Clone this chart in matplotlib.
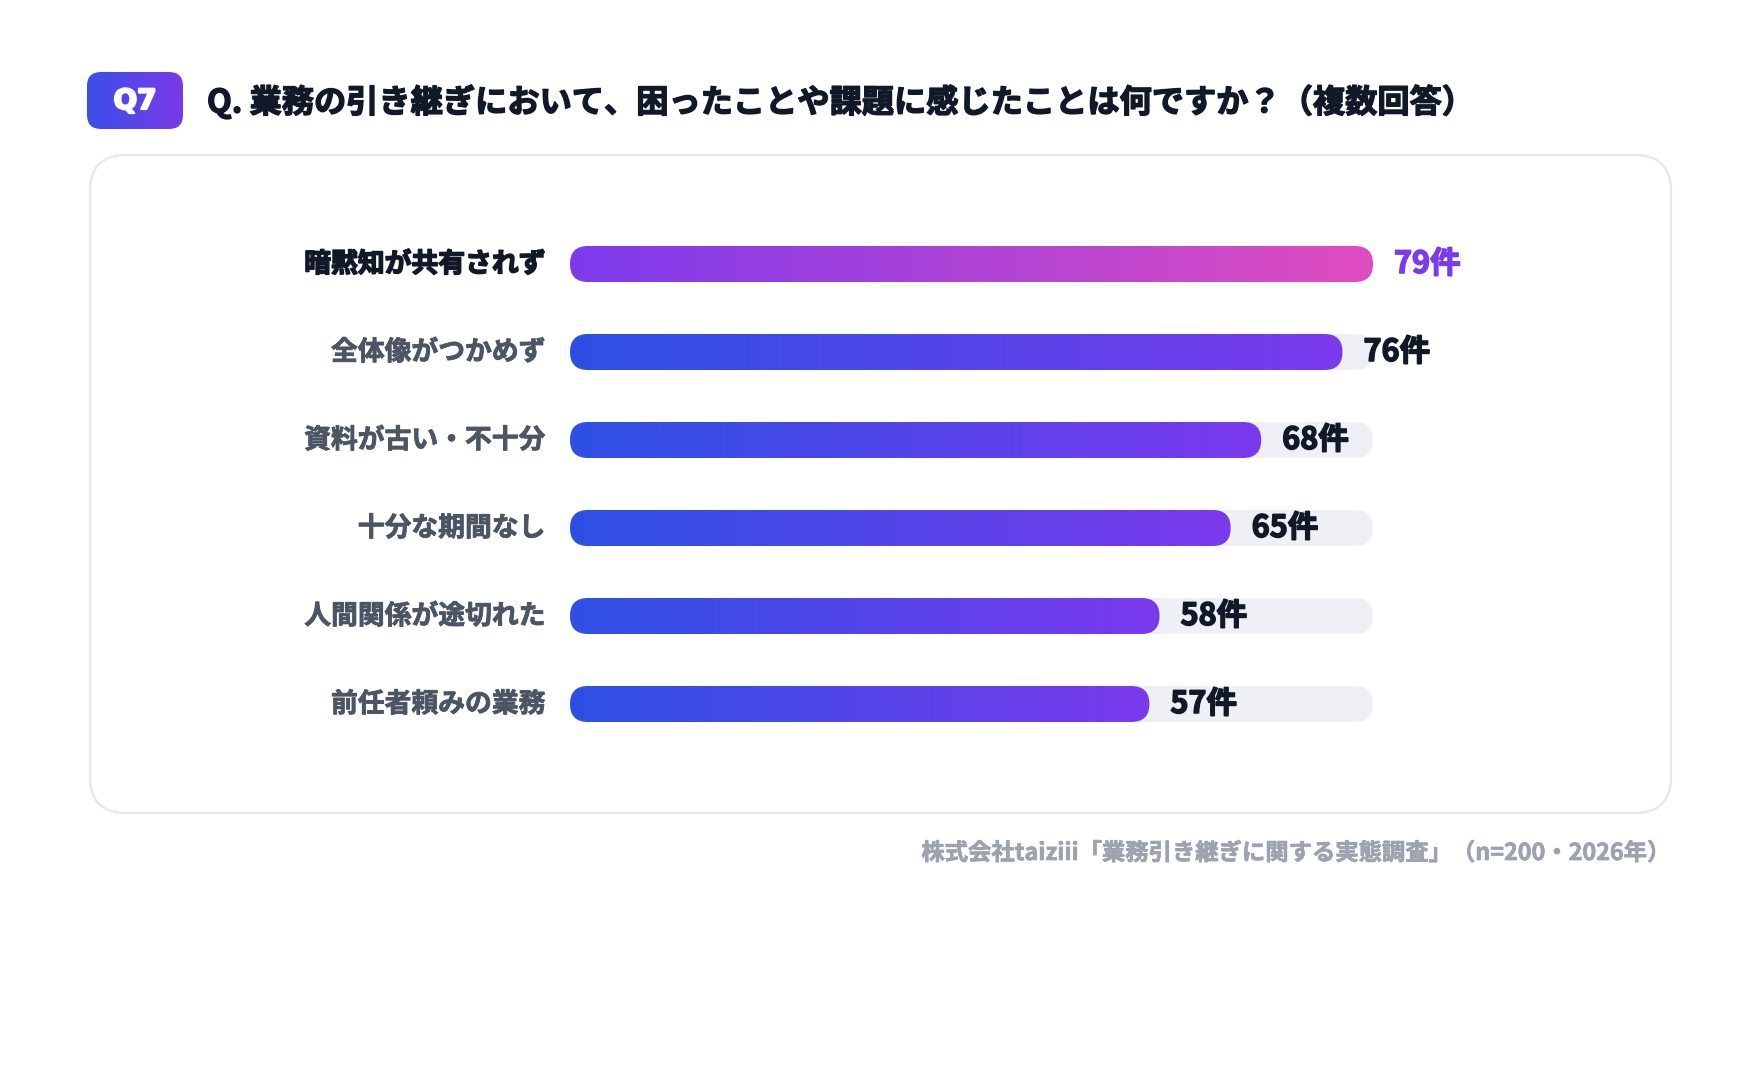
import matplotlib
matplotlib.use("Agg")
import matplotlib.pyplot as plt
import matplotlib.patheffects as pe
import numpy as np
from matplotlib.patches import FancyBboxPatch
from matplotlib.colors import to_rgb

plt.rcParams['font.family'] = ['Noto Sans CJK JP', 'DejaVu Sans']

# data
categories = ["暗黙知が共有されず", "全体像がつかめず", "資料が古い・不十分",
              "十分な期間なし", "人間関係が途切れた", "前任者頼みの業務"]
counts = [79, 76, 68, 65, 58, 57]
unit = "件"
title = "Q. 業務の引き継ぎにおいて、困ったことや課題に感じたことは何ですか？（複数回答）"
badge = "Q7"
source = "株式会社taiziii「業務引き継ぎに関する実態調査」（n=200・2026年）"

W, H = 1760, 1072
fig = plt.figure(figsize=(W / 100, H / 100), dpi=100)


def heavy(color, w=1.1):
    # fake a black weight: the installed CJK font stops at bold
    return [pe.withStroke(linewidth=w, foreground=color)]


# background layer in pixel units (card, badge, title, footer)
bg = fig.add_axes([0, 0, 1, 1])
bg.set_xlim(0, W)
bg.set_ylim(H, 0)
bg.axis("off")

card = FancyBboxPatch((90, 155), 1581, 658, boxstyle="round,pad=0,rounding_size=36",
                      facecolor="white", edgecolor="#e5e7eb", linewidth=1.6)
bg.add_patch(card)


def gradient(c1, c2, n=256):
    a, b = np.array(to_rgb(c1)), np.array(to_rgb(c2))
    t = np.linspace(0, 1, n)[:, None]
    return (a + (b - a) * t)[None, :, :]


badge_box = FancyBboxPatch((87, 72), 96, 57, boxstyle="round,pad=0,rounding_size=14",
                           facecolor="none", edgecolor="none")
bg.add_patch(badge_box)
img = bg.imshow(gradient("#3a4fe8", "#7a3ae9"), extent=(87, 183, 129, 72),
                aspect="auto", interpolation="bicubic")
img.set_clip_path(badge_box)
bg.text(135, 101, badge, color="white", fontsize=20, fontweight="black",
        family=["DejaVu Sans"], ha="center", va="center",
        path_effects=heavy("white", 1.6))

bg.text(207, 102, title, color="#111827", fontsize=23.2, fontweight="bold",
        ha="left", va="center", path_effects=heavy("#111827", 1.0))

bg.text(1672, 853, source, color="#9ca3af", fontsize=16.8, fontweight="bold",
        ha="right", va="center", path_effects=heavy("#9ca3af", 0.5))
bg.set_xlim(0, W)
bg.set_ylim(H, 0)

# bar layer
x0, x1 = 570, 1373
row_top, row_step = 220, 88
n = len(categories)
ax = fig.add_axes([x0 / W, 1 - (row_top + n * row_step) / H, (x1 - x0) / W, n * row_step / H])
ax.axis("off")
vmax = max(counts)
bar_h = 36 / row_step
r = 18 * vmax / (x1 - x0)
ma = (bar_h / 2) / r

for i, (cat, v) in enumerate(zip(categories, counts)):
    top = i == 0
    track = FancyBboxPatch((0, i - bar_h / 2), vmax, bar_h,
                           boxstyle=f"round,pad=0,rounding_size={r}", mutation_aspect=ma,
                           facecolor="#eef0f5", edgecolor="none", zorder=1)
    ax.add_patch(track)
    bar = FancyBboxPatch((0, i - bar_h / 2), v, bar_h,
                         boxstyle=f"round,pad=0,rounding_size={r}", mutation_aspect=ma,
                         facecolor="none", edgecolor="none", zorder=2)
    ax.add_patch(bar)
    if top:
        g = gradient("#7c3aed", "#e04dbf")
    else:
        g = gradient("#2d50e5", "#7b3aed")
    im = ax.imshow(g, extent=(0, v, i + bar_h / 2, i - bar_h / 2), aspect="auto",
                   interpolation="bicubic", zorder=3)
    im.set_clip_path(bar)

    lab_col = "#111827" if top else "#4b5563"
    ax.annotate(cat, xy=(0, i), xytext=(-25, 0), textcoords="offset pixels",
                ha="right", va="center", fontsize=19.3, fontweight="bold",
                color=lab_col, path_effects=heavy(lab_col, 1.1 if top else 0.6))
    val_col = "#7c3aed" if top else "#111827"
    ax.annotate(f"{v}{unit}", xy=(v, i), xytext=(21, 0), textcoords="offset pixels",
                ha="left", va="center", fontsize=22, fontweight="bold",
                color=val_col, path_effects=heavy(val_col, 1.1))

ax.set_xlim(0, vmax)
ax.set_ylim(n - 0.5, -0.5)

fig.savefig("out.png", dpi=100, facecolor="white")
